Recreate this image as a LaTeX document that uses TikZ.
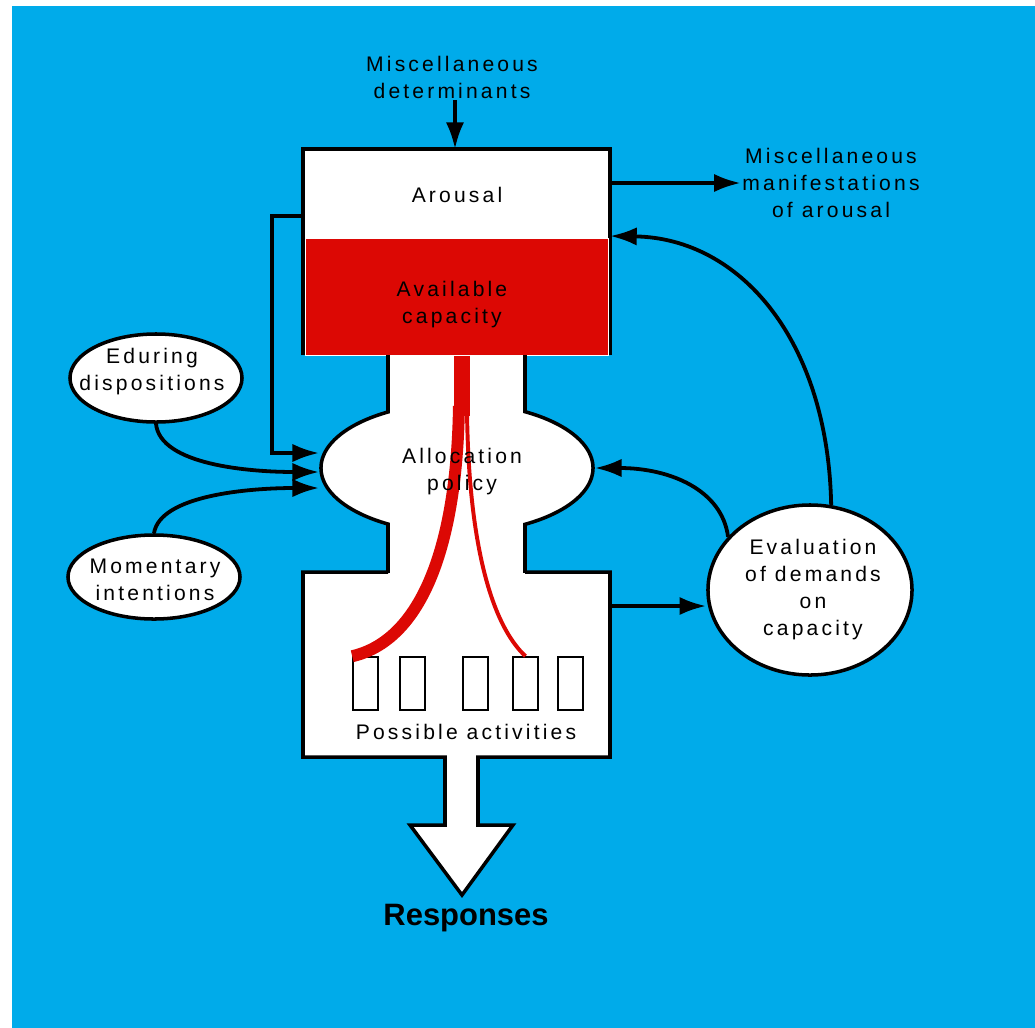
\documentclass[tikz,border=0pt]{standalone}
\usepackage{fontspec}
\setmainfont{Liberation Sans}
\newfontfamily\diafont[LetterSpace=15]{Liberation Sans}
\usetikzlibrary{shapes.geometric,arrows.meta,calc}
\definecolor{skyblue}{RGB}{0,171,234}
\definecolor{capred}{RGB}{220,8,4}

\begin{document}
\begin{tikzpicture}[x=0.025cm,y=-0.025cm,
  txt/.style={font=\diafont\fontsize{15}{19.2}\selectfont,align=center,inner sep=1pt},
  outline/.style={draw=black,line width=2.5pt,fill=white},
  bubble/.style={ellipse,outline,inner sep=0pt},
  slot/.style={draw=black,line width=1.1pt,minimum width=0.625cm,minimum height=1.325cm,inner sep=0pt},
  link/.style={line width=2.7pt,-{Latex[length=19pt,width=13pt]}},
  stream/.style={capred,line cap=butt}]

  % background
  \fill[white] (0,0) rectangle (1035,1028);
  \fill[skyblue] (12,6) rectangle (1035,1028);
  \useasboundingbox (0,0) rectangle (1035,1028);

  % allocation bulge
  \node[bubble,minimum width=6.8cm,minimum height=3.25cm] (policy) at (457,468) {};

  % arousal box
  \draw[outline] (303,355) -- (303,149) -- (610,149) -- (610,355);
  \node[fill=capred,draw=white,line width=0.6pt,minimum width=7.575cm,minimum height=2.925cm,
        inner sep=0pt,anchor=north west] (capacity) at (305,238) {};

  % activities box and outlet
  \draw[outline] (388,572) -- (303,572) -- (303,757) -- (445,757) -- (445,825) -- (410,825)
    -- (462,895) -- (513,825) -- (478,825) -- (478,757) -- (610,757) -- (610,572) -- (525,572);

  % neck
  \fill[white] (389.8,355.5) rectangle (523.2,574.8);
  \draw[line width=2.5pt] (388,355) -- (388,412) (525,355) -- (525,412)
    (388,524) -- (388,573) (525,524) -- (525,573);

  % activities
  \foreach \x [count=\i] in {353,400,463,513,558}
    \node[slot] (act\i) at (\x+12.5,683.5) {};

  % capacity streams
  \coordinate (src) at ($(capacity.south)+(5,0)$);
  \draw[stream,line width=11pt] (src) -- ++(0,60);
  \draw[stream,line width=8.5pt] ($(src)+(-3,50)$) .. controls (457,545) and (422,640) .. (act1.north west);
  \draw[stream,line width=2.8pt] ($(src)+(5,50)$) .. controls (468,545) and (492,625) .. (act4.north);

  % labels
  \node[txt] (arousal) at (457,195) {Arousal};
  \node[txt] (captxt) at (452,305) {Available\\capacity};
  \node[txt] (policytxt) at (462,472) {Allocation\\policy};
  \node[txt] (activities) at (466,732) {Possible activities};
  \node[font=\bfseries\fontsize{22}{26}\selectfont] (responses) at (466,918) {Responses};
  \node[txt] (misdet) at (452,77) {Miscellaneous\\determinants};
  \node[txt] (misman) at (831,183) {Miscellaneous\\manifestations\\of arousal};

  % side ellipses
  \node[bubble,minimum width=4.3cm,minimum height=2.2cm] (eduring) at (156,378) {};
  \node[txt] (eduringtxt) at ($(eduring)+(-4,-6)$) {Eduring\\dispositions};
  \node[bubble,minimum width=4.3cm,minimum height=2.1cm] (momentary) at (154,577) {};
  \node[txt] (momentarytxt) at ($(momentary)+(1,3)$) {Momentary\\intentions};
  \node[bubble,minimum width=5.1cm,minimum height=4.25cm] (evaluation) at (810,590) {};
  \node[txt] (evaluationtxt) at ($(evaluation)+(3,0)$) {Evaluation\\of demands\\on\\capacity};

  % connectors
  \coordinate (arW) at (303,216);
  \coordinate (arE) at (610,183);
  \coordinate (capE) at (610,236);
  \coordinate (actE) at (610,606);
  \coordinate (topin) at (455,149);

  \draw[link] (topin |- misdet.south) -- (topin);
  \draw[link] (arE) -- (arE -| misman.west);
  \draw[link] (evaluation.76) .. controls (828,340) and (740,238) .. (capE);
  \draw[link] (evaluation.147) .. controls (722,490) and (670,468) .. (policy.east);
  \draw[link] (actE) -- (actE -| evaluation.west);
  \draw[link] (arW) -- ++(-31,0) |- ($(policy.west)+(0,-15)$);
  \draw[link] (eduring.south) .. controls (160,465) and (250,472) .. ($(policy.west)+(0,4)$);
  \draw[link] (momentary.north) .. controls (160,495) and (250,488) .. ($(policy.west)+(0,20)$);
\end{tikzpicture}
\end{document}
